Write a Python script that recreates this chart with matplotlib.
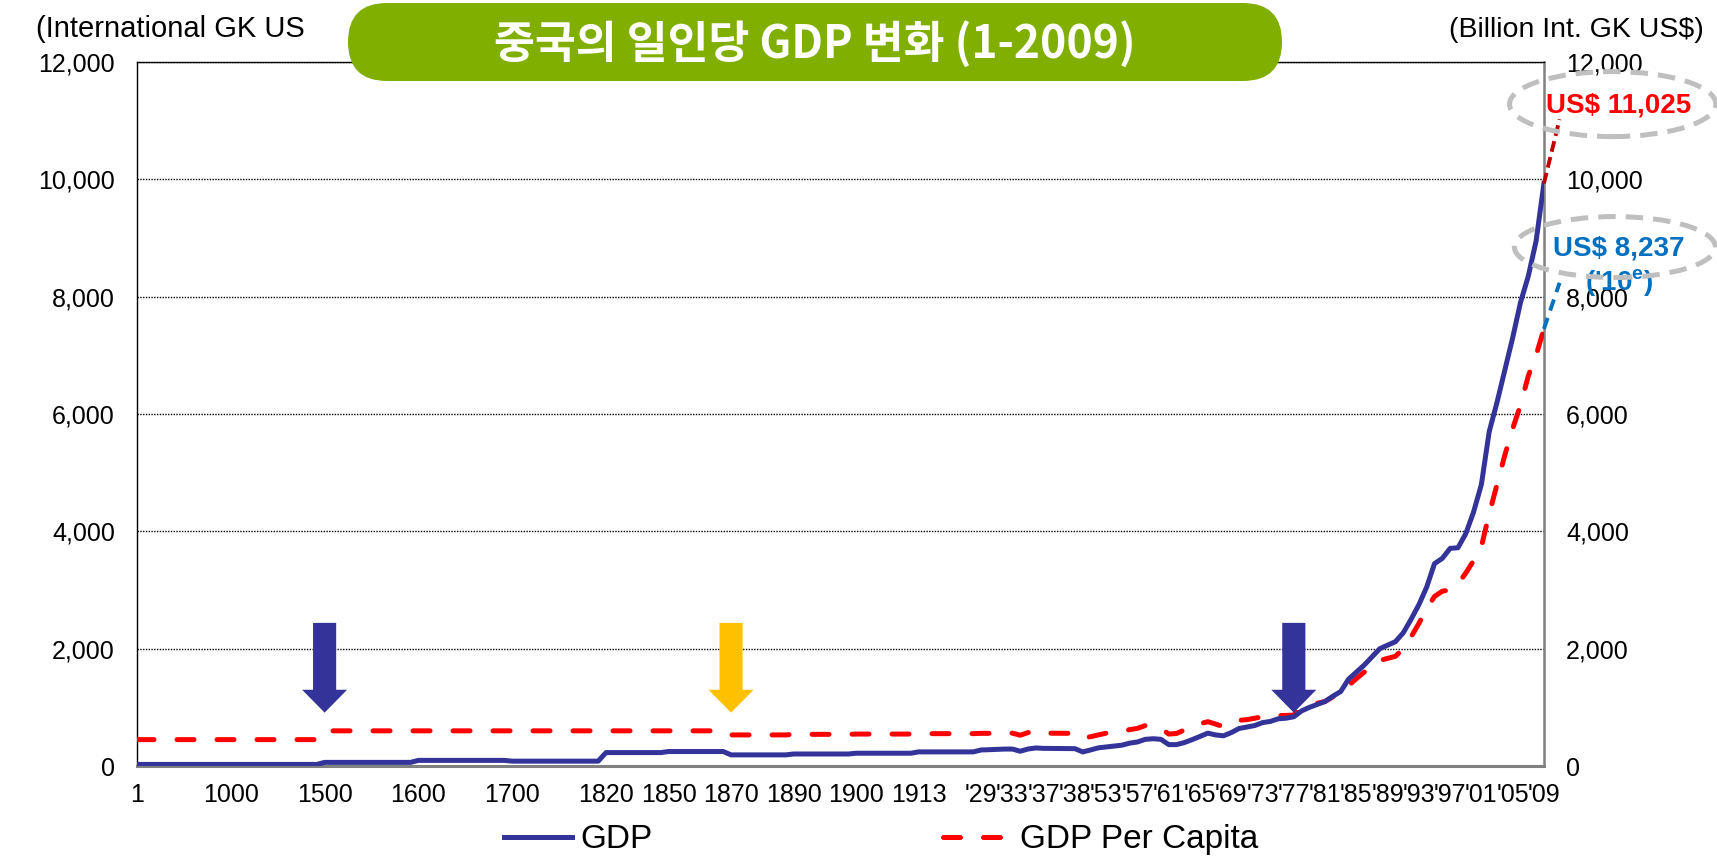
import numpy as np
import matplotlib
matplotlib.use("Agg")
import matplotlib.pyplot as plt
from matplotlib.patches import FancyArrow, Ellipse, FancyBboxPatch
from matplotlib.lines import Line2D
from matplotlib.transforms import IdentityTransform
from matplotlib.ticker import FuncFormatter

plt.rcParams['font.family'] = ['Liberation Sans', 'DejaVu Sans']

# 범주형 x축 눈금 (엑셀 스타일)
tick_years = [1, 1000, 1500, 1600, 1700, 1820, 1850, 1870, 1890, 1900, 1913,
              1929, 1933, 1937, 1938, 1953, 1957, 1961, 1965, 1969, 1973,
              1977, 1981, 1985, 1989, 1993, 1997, 2001, 2005, 2009]
tick_labels = ['1', '1000', '1500', '1600', '1700', '1820', '1850', '1870',
               '1890', '1900', '1913', "'29", "'33", "'37", "'38", "'53",
               "'57", "'61", "'65", "'69", "'73", "'77", "'81", "'85",
               "'89", "'93", "'97", "'01", "'05", "'09"]
# 라벨 사이 간격 (카테고리 칸 수)
tick_span = [3] * 5 + [2] * 6 + [1] * 18

# 데이터 (연도별)
years = ([1, 1000, 1500, 1600, 1700, 1820, 1850, 1870, 1890, 1900, 1913]
         + list(range(1929, 1939)) + list(range(1950, 2010)))

# GDP (Billion Int. GK US$)
gdp = [27, 27, 62, 96, 83, 229, 247, 190, 205, 218, 241,
       274, 278, 284, 289, 289, 252, 290, 308, 301, 296,
       240, 274, 310, 325, 340, 355, 390, 410, 455, 465,
       455, 365, 365, 400, 450, 505, 560, 530, 515, 570,
       640, 665, 690, 740, 760, 805, 815, 840, 940, 1000,
       1050, 1100, 1190, 1270, 1480, 1600, 1720, 1860, 2000, 2060,
       2120, 2270, 2500, 2750, 3050, 3450, 3540, 3710, 3720, 3960,
       4330, 4800, 5700, 6200, 6750, 7300, 7900, 8350, 8950, 9930]

# 일인당 GDP (International GK US$)
gdp_pc = [450, 450, 600, 600, 600, 600, 600, 530, 540, 545, 552,
          557, 557, 558, 560, 560, 525, 570, 595, 560, 557,
          470, 500, 530, 560, 580, 590, 620, 642, 690, 685,
          645, 545, 555, 615, 680, 720, 756, 715, 670, 720,
          780, 790, 815, 840, 850, 860, 862, 870, 980, 1040,
          1070, 1100, 1180, 1250, 1370, 1490, 1600, 1720, 1800, 1835,
          1870, 2000, 2200, 2430, 2680, 2890, 2980, 3000, 3100, 3290,
          3500, 3740, 4300, 4800, 5300, 5750, 6150, 6650, 7000, 7450]

# 2010 추정치
est_year = 2010
gdp_2010e = 11025
pc_2010e = 8237

arrow_years = [1500, 1870, 1977]
arrow_colors = ['#333399', '#FFC000', '#333399']

# 연도 -> 카테고리 위치
tick_slot = np.concatenate([[0], np.cumsum(tick_span)])
anchor_years = list(tick_years) + [1950, est_year]
anchor_slots = list(tick_slot) + [30.25, 45.5]
order = np.argsort(anchor_years)
anchor_years = np.array(anchor_years)[order]
anchor_slots = np.array(anchor_slots)[order]


def to_slot(y):
    return np.interp(y, anchor_years, anchor_slots)


def excel_rows(yrs, vals, sparse_until=1929, row=0.25):
    # 드문 구간은 엑셀처럼 이전 값을 유지하다가 라벨 직전에 변화
    xs, ys = [], []
    slots = to_slot(yrs)
    for i, (s, v) in enumerate(zip(slots, vals)):
        if i > 0 and yrs[i] <= sparse_until:
            xs.append(s - row)
            ys.append(vals[i - 1])
        xs.append(s)
        ys.append(v)
    return np.array(xs), np.array(ys)


fig = plt.figure(figsize=(17.17, 8.58), dpi=100)
ax = fig.add_axes([0.0798, 0.1072, 0.8194, 0.8205])

navy = '#333399'
red = '#FF0000'

x_g, y_g = excel_rows(years, gdp)
x_p, y_p = excel_rows(years, gdp_pc)

ax.plot(x_p, y_p, color=red, lw=3.6, dashes=(3.4, 4.6),
        dash_capstyle='round', zorder=3)
ax.plot(x_g, y_g, color=navy, lw=3.6, solid_joinstyle='round', zorder=4)

# 2010 추정 연장선
ax.plot(to_slot([years[-1], est_year]), [gdp[-1], gdp_2010e], color='#C00000',
        lw=2.8, dashes=(2.8, 1.4), clip_on=False, zorder=5)
ax.plot(to_slot([years[-1], est_year]), [gdp_pc[-1], pc_2010e], color='#0070C0',
        lw=2.8, dashes=(3, 2), clip_on=False, zorder=5)

# 화살표
for yr, c in zip(arrow_years, arrow_colors):
    ax.add_patch(FancyArrow(to_slot(yr), 2440, 0, -1530, width=0.74,
                            head_width=1.44, head_length=390,
                            length_includes_head=True, color=c, lw=0,
                            zorder=6))

# 축
ax.set_xlim(0, tick_slot[-1])
ax.set_ylim(0, 12000)
ax.set_xticks(tick_slot)
ax.set_xticklabels(tick_labels)
ax.set_yticks(np.arange(0, 12001, 2000))
ax.yaxis.set_major_formatter(FuncFormatter(lambda v, p: f'{v:,.0f}'))
ax.tick_params(axis='both', length=0, labelsize=18, colors='black')
ax.tick_params(axis='y', pad=16, labelright=True)
ax.tick_params(axis='x', pad=12)
ax.yaxis.grid(True, color='black', linestyle=(0, (1, 1)), lw=1.0)
ax.set_axisbelow(True)

ax.spines['left'].set_color('black')
ax.spines['left'].set_linewidth(1.0)
ax.spines['top'].set_color('black')
ax.spines['top'].set_linewidth(1.0)
ax.spines['right'].set_color('#808080')
ax.spines['right'].set_linewidth(1.8)
ax.spines['bottom'].set_color('#808080')
ax.spines['bottom'].set_linewidth(2.2)

# 단위 라벨
fig.text(0.021, 0.966, '(International GK US', fontsize=21, ha='left', va='center')
fig.text(0.992, 0.965, '(Billion Int. GK US$)', fontsize=20.5, ha='right', va='center')

# 주석 (점선 타원)
for cx, cy, w, h in [(47.2, 11283, 6.6, 1108), (47.27, 8846, 6.43, 1040)]:
    ax.add_patch(Ellipse((cx, cy), w, h, fill=False, ec='#BFBFBF', lw=3.6,
                         ls=(0, (3.5, 2)), clip_on=False, zorder=7))
ax.text(47.4, 11266, f'US$ {gdp_2010e:,}', color=red, fontsize=20,
        weight='bold', ha='center', va='center', clip_on=False, zorder=8)
ax.text(47.4, 8829, f'US$ {pc_2010e:,}', color='#0070C0', fontsize=20,
        weight='bold', ha='center', va='center', clip_on=False, zorder=8)
ax.text(47.4, 8230, "('10$^{\\mathregular{e}}$)", color='#0070C0', fontsize=20,
        weight='bold', ha='center', va='center', clip_on=False, zorder=6)

# 제목 박스
box = FancyBboxPatch((348, 777), 934, 78, boxstyle='round,pad=0,rounding_size=39',
                     transform=IdentityTransform(), fc='#80AF00', ec='none',
                     zorder=10)
fig.add_artist(box)
fig.text(0.4747, 0.9487, '중국의 일인당 GDP 변화 (1-2009)',
         family=['Noto Sans CJK KR', 'DejaVu Sans'], weight='bold',
         fontsize=32, color='white', ha='center', va='center', zorder=11)

# 범례
handles = [Line2D([], [], color=navy, lw=3.6),
           Line2D([], [], color=red, lw=3.6, dashes=(3.4, 4.6),
                  dash_capstyle='round')]
fig.legend(handles, ['GDP', 'GDP Per Capita'], loc='center',
           bbox_to_anchor=(0.513, 0.021), ncol=2, frameon=False, fontsize=24,
           handlelength=2.06, handletextpad=0.25, columnspacing=8.7)

fig.savefig('out.png', dpi=100)
